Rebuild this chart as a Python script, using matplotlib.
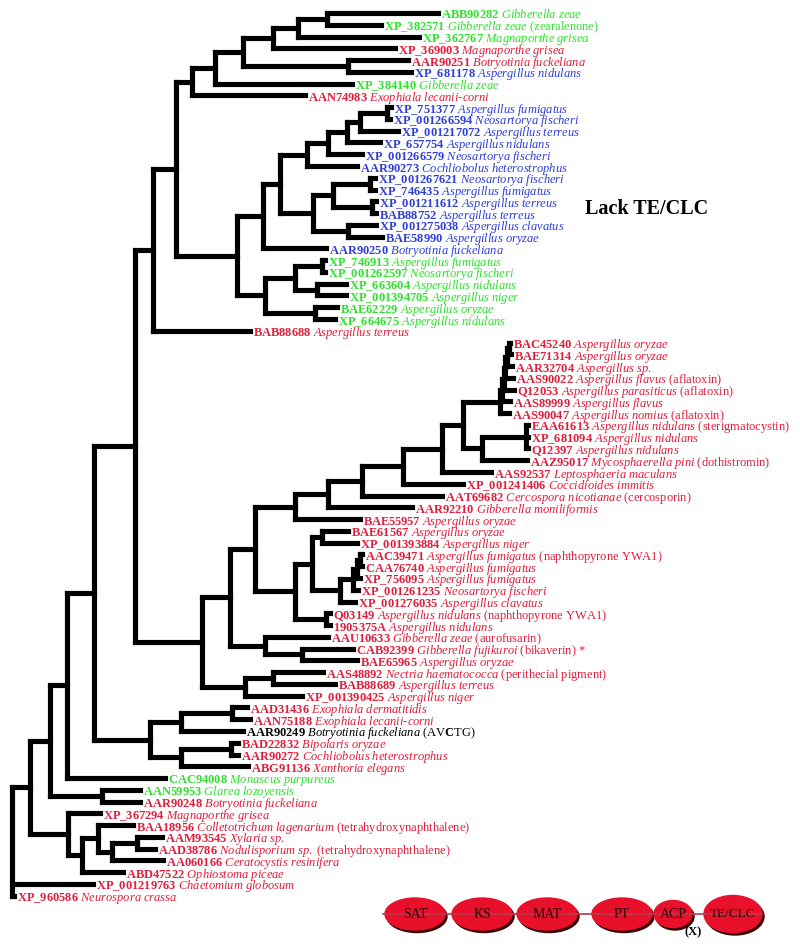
import matplotlib.pyplot as plt
from matplotlib.patches import Ellipse

plt.rcParams['font.family'] = 'Liberation Serif'
plt.rcParams['mathtext.fontset'] = 'custom'
plt.rcParams['mathtext.rm'] = 'Liberation Serif'
plt.rcParams['mathtext.it'] = 'Liberation Serif:italic'
plt.rcParams['mathtext.bf'] = 'Liberation Serif:bold'

# ---- leaves (top to bottom) ----
accessions = ["ABB90282", "XP_382571", "XP_362767", "XP_369003", "AAR90251", "XP_681178",
              "XP_384140", "AAN74983", "XP_751377", "XP_001266594", "XP_001217072", "XP_657754",
              "XP_001266579", "AAR90273", "XP_001267621", "XP_746435", "XP_001211612", "BAB88752",
              "XP_001275038", "BAE58990", "AAR90250", "XP_746913", "XP_001262597", "XP_663604",
              "XP_001394705", "BAE62229", "XP_664675", "BAB88688", "BAC45240", "BAE71314",
              "AAR32704", "AAS90022", "Q12053", "AAS89999", "AAS90047", "EAA61613", "XP_681094",
              "Q12397", "AAZ95017", "AAS92537", "XP_001241406", "AAT69682", "AAR92210", "BAE55957",
              "BAE61567", "XP_001393884", "AAC39471", "CAA76740", "XP_756095", "XP_001261235",
              "XP_001276035", "Q03149", "1905375A", "AAU10633", "CAB92399", "BAE65965", "AAS48892",
              "BAB88689", "XP_001390425", "AAD31436", "AAN75188", "AAR90249", "BAD22832", "AAR90272",
              "ABG91136", "CAC94008", "AAN59953", "AAR90248", "XP_367294", "BAA18956", "AAM93545",
              "AAD38786", "AA060166", "ABD47522", "XP_001219763", "XP_960586"]
species = ["Gibberella zeae", "Gibberella zeae", "Magnaporthe grisea", "Magnaporthe grisea",
           "Botryotinia fuckeliana", "Aspergillus nidulans", "Gibberella zeae", "Exophiala lecanii-corni",
           "Aspergillus fumigatus", "Neosartorya fischeri", "Aspergillus terreus", "Aspergillus nidulans",
           "Neosartorya fischeri", "Cochliobolus heterostrophus", "Neosartorya fischeri", "Aspergillus fumigatus",
           "Aspergillus terreus", "Aspergillus terreus", "Aspergillus clavatus", "Aspergillus oryzae",
           "Botryotinia fuckeliana", "Aspergillus fumigatus", "Neosartorya fischeri", "Aspergillus nidulans",
           "Aspergillus niger", "Aspergillus oryzae", "Aspergillus nidulans", "Aspergillus terreus",
           "Aspergillus oryzae", "Aspergillus oryzae", "Aspergillus sp.", "Aspergillus flavus",
           "Aspergillus parasiticus", "Aspergillus flavus", "Aspergillus nomius", "Aspergillus nidulans",
           "Aspergillus nidulans", "Aspergillus nidulans", "Mycosphaerella pini", "Leptosphaeria maculans",
           "Coccidioides immitis", "Cercospora nicotianae", "Gibberella moniliformis", "Aspergillus oryzae",
           "Aspergillus oryzae", "Aspergillus niger", "Aspergillus fumigatus", "Aspergillus fumigatus",
           "Aspergillus fumigatus", "Neosartorya fischeri", "Aspergillus clavatus", "Aspergillus nidulans",
           "Aspergillus nidulans", "Gibberella zeae", "Gibberella fujikuroi", "Aspergillus oryzae",
           "Nectria haematococca", "Aspergillus terreus", "Aspergillus niger", "Exophiala dermatitidis",
           "Exophiala lecanii-corni", "Botryotinia fuckeliana", "Bipolaris oryzae", "Cochliobolus heterostrophus",
           "Xanthoria elegans", "Monascus purpureus", "Glarea lozoyensis", "Botryotinia fuckeliana",
           "Magnaporthe grisea", "Colletotrichum lagenarium", "Xylaria sp.", "Nodulisporium sp.",
           "Ceratocystis resinifera", "Ophiostoma piceae", "Chaetomium globosum", "Neurospora crassa"]
notes = {"XP_382571": "(zearalenone)", "AAS90022": "(aflatoxin)", "Q12053": "(aflatoxin)",
         "AAS90047": "(aflatoxin)", "EAA61613": "(sterigmatocystin)", "AAZ95017": "(dothistromin)",
         "AAT69682": "(cercosporin)", "AAC39471": "(naphthopyrone YWA1)", "Q03149": "(naphthopyrone YWA1)",
         "AAU10633": "(aurofusarin)", "CAB92399": "(bikaverin) *", "AAS48892": "(perithecial pigment)",
         "AAR90249": r"(AV$\mathbf{C}$TG)", "BAA18956": "(tetrahydroxynaphthalene)",
         "AAD38786": "(tetrahydroxynaphthalene)"}
# colour group of each leaf: g = green, r = red, b = blue, k = black
groups = ("gggrrbgr" + "bbbbbbbbbbbbb" + "gggggg"
          + "rrrrrrrrrrrrrrrrrrrrrrrrrrrrrrrrrr" + "k" + "rrr" + "gg" + "rrrrrrrrr")
tip_depth = [438, 381, 419, 395, 408, 411, 352, 305, 391, 390, 398, 380, 362, 357, 375, 375, 376, 376,
             376, 382, 326, 325, 325, 346, 346, 337, 335, 250, 510, 511, 512, 513, 514, 510, 509, 528,
             528, 528, 527, 491, 463, 442, 412, 360, 348, 357, 362, 362, 360, 358, 355, 330, 330, 328,
             353, 357, 323, 335, 302, 247, 250, 243, 238, 238, 248, 165, 140, 140, 100, 133, 162, 155,
             163, 123, 93, 14]

# ---- topology: clades with node depths ----
clade_zea = "((((((ABB90282,XP_382571):327,XP_362767):298,XP_369003):273,(AAR90251,XP_681178):348):243,XP_384140):215,AAN74983):192"
clade_blue = ("(((((((XP_751377,XP_001266594):387,XP_001217072):360,XP_657754):347,XP_001266579):328,AAR90273):307,"
              "(((XP_001267621,XP_746435):370,(XP_001211612,BAB88752):372):333,(XP_001275038,BAE58990):348):313):280,AAR90250):263")
clade_green = "(((XP_746913,XP_001262597):322,(XP_663604,XP_001394705):317):295,(BAE62229,XP_664675):315):265"
clade_afla = ("((((((((((((BAC45240,BAE71314):509,AAR32704):507,AAS90022):505,Q12053):504,AAS89999):502,AAS90047):500,"
              "((EAA61613,XP_681094,Q12397):526,AAZ95017):482):463,AAS92537):442,XP_001241406):403,AAT69682):362,AAR92210):328,BAE55957):295")
clade_ywa = ("(((BAE61567,XP_001393884):322,((((AAC39471,CAA76740):360,XP_756095):357,XP_001261235):353,XP_001276035):340):312,"
             "(Q03149,1905375A):326):295")
clade_pig = "(AAU10633,(CAB92399,BAE65965):302):265"
clade_nec = "((AAS48892,BAB88689):273,XP_001390425):245"
clade_exo = "(((AAD31436,AAN75188):232,AAR90249):181,((BAD22832,AAR90272):231,ABG91136):181):150"
clade_thn = "(XP_367294,((BAA18956,((AAM93545,AAD38786):137,AA060166):112):98,ABD47522):82):68"

upper = f"(({clade_zea},({clade_blue},{clade_green}):237):176,BAB88688):153"
lower = f"((({clade_afla},{clade_ywa}):255,{clade_pig}):230,{clade_nec}):202"
tree = (f"((((({upper},{lower}):135,{clade_exo}):94,CAC94008):67,(AAN59953,AAR90248):102):50,"
        f"{clade_thn}):30")
tree = f"({tree},XP_001219763,XP_960586):12"

colors = {'g': '#2ee22e', 'r': '#e11e3c', 'b': '#2f3fd8', 'k': '#000000'}
tip = dict(zip(accessions, tip_depth))
lab = {a: (s, notes.get(a, ''), colors[g]) for a, s, g in zip(accessions, species, groups)}


def parse(s, i=0):
    if s[i] == '(':
        kids = []
        i += 1
        while True:
            kid, i = parse(s, i)
            kids.append(kid)
            i += 1
            if s[i - 1] == ')':
                break
        j = i + 1
        while j < len(s) and (s[j].isdigit() or s[j] == '.'):
            j += 1
        return (float(s[i + 1:j]), kids), j
    j = i
    while s[j] not in ',)':
        j += 1
    return s[i:j], j


def italic(s):
    return '-'.join(r'$\mathit{' + p.replace(' ', r'\ ') + '}$' for p in s.split('-'))


fig = plt.figure(figsize=(8, 9.44), dpi=100)
ax = fig.add_axes([0, 0, 1, 1])
ax.set_xlim(0, 800)
ax.set_ylim(944, 0)
ax.axis('off')

y0, dy = 13, 11.77
order = []
lw = 3.7


def draw(node):
    if isinstance(node, str):
        y = y0 + len(order) * dy
        order.append(node)
        sp, note, c = lab[node]
        txt = r'$\mathbf{' + node.replace('_', r'\_') + '}$ ' + italic(sp)
        if note:
            txt += ' ' + note
        ax.text(tip[node] + 3, y, txt, fontsize=9, color=c, va='center_baseline', ha='left')
        return tip[node], y
    depth, kids = node
    pts = [draw(k) for k in kids]
    ys = [p[1] for p in pts]
    ax.plot([depth, depth], [ys[0], ys[-1]], color='k', lw=lw, solid_capstyle='projecting')
    for kx, ky in pts:
        ax.plot([depth, kx], [ky, ky], color='k', lw=lw, solid_capstyle='projecting')
    return depth, (ys[0] + ys[-1]) / 2


root, _ = parse(tree)
draw(root)

ax.text(585, 209, "Lack TE/CLC", fontsize=14.5, fontweight='bold', va='center', ha='left')

# ---- domain architecture ----
domains = ["SAT", "KS", "MAT", "PT", "ACP", "TE/CLC"]
dx = [415, 482, 547, 622, 673, 733]
dw = [60, 60, 60, 60, 38, 58]
dh = [32, 32, 32, 32, 27, 37]
yd = 914
ax.plot([383, 762], [yd, yd], color='#b83a4a', lw=1.2)
for name, cx, w, h in zip(domains, dx, dw, dh):
    ax.add_patch(Ellipse((cx + 2, yd + 2.5), w, h, color='#3a0006'))
    ax.add_patch(Ellipse((cx, yd), w, h, color='#e8102a'))
    ax.text(cx, yd, name, fontsize=10 if name != "TE/CLC" else 9.5, ha='center', va='center', color='#2a0000')
ax.text(693, 932, "(X)", fontsize=9, fontweight='bold', ha='center', va='center')

fig.savefig('out.png', dpi=100)
